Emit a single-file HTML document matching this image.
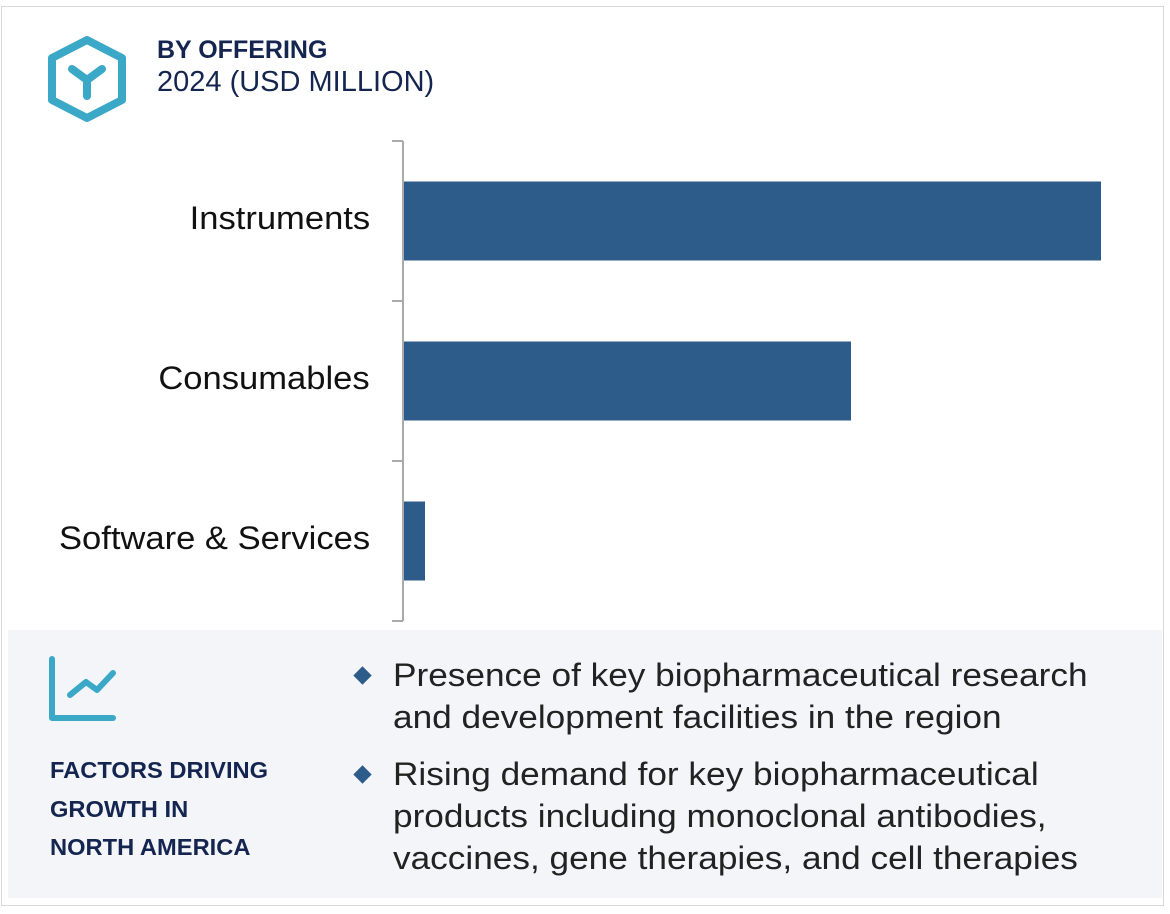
<!DOCTYPE html>
<html><head><meta charset="utf-8"><style>
body{margin:0;width:1170px;height:914px;background:#fff;font-family:"Liberation Sans",sans-serif;overflow:hidden;position:relative}
.frame{position:absolute;left:1px;top:6px;width:1163px;height:900px;border:1px solid #d8d8d8;box-sizing:border-box}
.t1{position:absolute;left:157px;top:36px;font-size:25px;font-weight:bold;color:#14254f}
.t2{position:absolute;left:157px;top:66px;font-size:29px;color:#14254f}
.panel{position:absolute;left:8px;top:630px;width:1154px;height:268px;background:#f3f5f9}
.fac{position:absolute;left:50px;top:751px;font-size:23px;font-weight:bold;color:#14254f;line-height:38.5px;transform:scaleX(1.03);transform-origin:left}
.bl{position:absolute;left:393px;font-size:32px;color:#222;line-height:42px;transform:scaleX(1.1);transform-origin:left;white-space:nowrap}
.dia{position:absolute;left:356px;width:13px;height:13px;background:#2d5b8a;transform:rotate(45deg)}
.cat{position:absolute;right:800px;font-size:32px;color:#111;text-align:right;white-space:nowrap;transform:scaleX(1.08);transform-origin:right}
</style></head><body>
<div class="frame"></div>
<svg style="position:absolute;left:0;top:0" width="1170" height="914">
<polygon points="87,40 122,58 122,100 87,118 52,100 52,58" fill="none" stroke="#3aa8c6" stroke-width="8" stroke-linejoin="round"/>
<path d="M72,69 L87,80 L102,69 M87,80 L87,96" fill="none" stroke="#3aa8c6" stroke-width="8" stroke-linecap="round" stroke-linejoin="round"/>
</svg>
<div class="t1">BY OFFERING</div>
<div class="t2">2024 (USD MILLION)</div>
<svg id="chart" style="position:absolute;left:0;top:0" width="1170" height="630"></svg>
<div id="labels"></div>
<div class="panel"></div>
<svg style="position:absolute;left:0;top:0" width="300" height="914">
<path d="M52,659 L52,718 L113,718" fill="none" stroke="#3aa8c6" stroke-width="6" stroke-linecap="round" stroke-linejoin="round"/>
<path d="M70,695 L86,682 L97,690 L113,673" fill="none" stroke="#3aa8c6" stroke-width="6" stroke-linecap="round" stroke-linejoin="round"/>
</svg>
<div class="fac">FACTORS DRIVING<br>GROWTH IN<br>NORTH AMERICA</div>
<div class="dia" style="top:669px"></div>
<div class="bl" style="top:654px">Presence of key biopharmaceutical research<br>and development facilities in the region</div>
<div class="dia" style="top:768px"></div>
<div class="bl" style="top:753px">Rising demand for key biopharmaceutical<br>products including monoclonal antibodies,<br>vaccines, gene therapies, and cell therapies</div>
<script>
const categories=["Instruments","Consumables","Software & Services"];
const values=[698,448,22];
const ns="http://www.w3.org/2000/svg";
const svg=document.getElementById('chart');
const x0=403,pxPer=1,top0=141,band=160,barH=79;
const xs=v=>x0+v*pxPer;
const yb=i=>top0+i*band;
function mk(t,a){const e=document.createElementNS(ns,t);for(const k in a)e.setAttribute(k,a[k]);svg.appendChild(e);return e;}
const ax=mk('line',{x1:x0,y1:top0,x2:x0,y2:top0+band*categories.length,stroke:'#aaa','stroke-width':2});


for(let i=0;i<=categories.length;i++){
 const t=mk('line',{x1:x0-11,x2:x0,y1:yb(i),y2:yb(i),stroke:'#aaa','stroke-width':2});
 
 
}
const lab=document.getElementById('labels');
categories.forEach((c,i)=>{
 const r=mk('rect',{x:x0+1,y:yb(i)+(band-barH)/2,width:xs(values[i])-x0-1,height:barH,fill:'#2d5b8a'});
 
 
 const d=document.createElement('div');
 d.className='cat';d.textContent=c;d.style.top=(yb(i)+band/2-21)+'px';
 
 
 lab.appendChild(d);
});
</script>
</body></html>
